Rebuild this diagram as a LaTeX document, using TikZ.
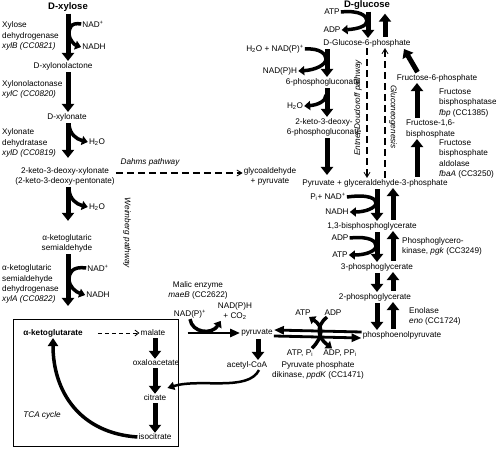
\documentclass[tikz,border=0pt]{standalone}
\usepackage{fontspec}
\setmainfont{Liberation Sans}
\usetikzlibrary{arrows.meta, positioning, calc}

\begin{document}
\begin{tikzpicture}[x=1pt, y=-1pt,
  every node/.style={font=\fontsize{8.2}{10.2}\selectfont, inner sep=1pt},
  title/.style={font=\fontsize{9.5}{11}\selectfont\bfseries},
  enz/.style={anchor=west, align=left},
  path label/.style={font=\fontsize{8.2}{10}\selectfont\itshape},
  rxn/.style={line width=5pt, shorten <=1pt, -{Triangle[width=12pt, length=8pt]}},
  cof/.style={line width=3.5pt, -{Triangle[width=9pt, length=6pt]}},
  ppdk arrow/.style={line width=2.8pt, -{Triangle[width=8pt, length=10pt]}},
  dashed route/.style={line width=1.8pt, dash pattern=on 7pt off 4pt,
    -{Straight Barb[line width=0.8pt, length=5pt, width=6pt]}},
  thin route/.style={line width=0.8pt, dash pattern=on 4pt off 3pt,
    -{Straight Barb[line width=0.8pt, length=4pt, width=6pt]}}]
  \useasboundingbox (0,0) rectangle (496,449);

  % arrow columns
  \coordinate (colL) at (68,0);
  \coordinate (colA) at (327,0);
  \coordinate (colE) at (367,0);
  \coordinate (colG) at (368,0);
  \coordinate (colN) at (385,0);
  \coordinate (colD) at (377,0);
  \coordinate (colU) at (393,0);
  \coordinate (colF) at (417,0);
  \coordinate (colK) at (258,0);
  \coordinate (colT) at (155,0);

  % Weimberg pathway (left)
  \node[title] (xyl) at (68,7) {D-xylose};
  \node (xylac) at (63,66) {D-xylonolactone};
  \node (xylon) at (67,117) {D-xylonate};
  \node[align=center] (kdx) at (65,176) {2-keto-3-deoxy-xylonate\\(2-keto-3-deoxy-pentonate)};
  \node[align=center] (ksa) at (67,243) {α-ketoglutaric\\semialdehyde};
  \coordinate (xAend) at (68,306);

  \node[enz] (xB) at (1,36) {Xylose\\dehydrogenase\\\textit{xylB (CC0821)}};
  \node[enz] (xC) at (1,89) {Xylonolactonase\\\textit{xylC (CC0820)}};
  \node[enz] (xD) at (1,143) {Xylonate\\dehydratase\\\textit{xylD (CC0819)}};
  \node[enz] (xA) at (1,284) {α-ketoglutaric\\semialdehyde\\dehydrogenase\\\textit{xylA (CC0822)}};

  \node (nad1) at (93,24) {NAD\textsuperscript{+}};
  \node (nadh1) at (94,47) {NADH};
  \node (h2o1) at (97,142) {H\textsubscript{2}O};
  \node (h2o2) at (97,207) {H\textsubscript{2}O};
  \node (nad2) at (98,268) {NAD\textsuperscript{+}};
  \node (nadh2) at (98,295) {NADH};
  \coordinate (d2) at (69,125);
  \coordinate (d3) at (69,190);

  \draw[rxn] (xyl.south -| colL) -- (xylac.north -| colL);
  \draw[rxn] (xylac.south -| colL) -- (xylon.north -| colL);
  \draw[rxn, shorten >=8pt] (xylon.south -| colL) -- (kdx.north -| colL);
  \draw[rxn, shorten >=12pt] (kdx.south -| colL) -- (ksa.north -| colL);
  \draw[rxn] (ksa.south -| colL) -- (xAend);

  \draw[cof] (nad1.west) .. controls (70,22) and (69,29) .. (69,34)
    .. controls (69,40) and (75,45) .. (nadh1.west);
  \draw[cof] (d2) .. controls (70,134) and (76,139) .. (h2o1.west);
  \draw[cof] (d3) .. controls (70,199) and (76,204) .. (h2o2.west);
  \draw[cof] (nad2.west) .. controls (72,266) and (69,273) .. (69,279)
    .. controls (69,287) and (76,292) .. (nadh2.west);

  \node[path label, rotate=-90] (weim) at (127,233) {Weimberg pathway};

  % Dahms pathway
  \node[path label] (dahms) at (150,162) {Dahms pathway};
  \node[align=center] (gly) at (270,176) {glycoaldehyde\\+ pyruvate};
  \draw[dashed route] (kdx.east |- 0,173) -- (gly.west |- 0,173);

  % TCA cycle
  \draw[line width=1pt] (13,320) rectangle (178,447);
  \node[font=\fontsize{8.2}{10}\selectfont\bfseries] (akg) at (53,333) {α-ketoglutarate};
  \node (mal) at (153,333) {malate};
  \node (oaa) at (156,363) {oxaloacetate};
  \node (cit) at (155,398) {citrate};
  \node (icit) at (155,437) {isocitrate};
  \node[path label] (tca) at (42,415) {TCA cycle};

  \draw[thin route, shorten <=14pt] (akg.east) -- (mal.west);
  \draw[rxn] (mal.south -| colT) -- (oaa.north -| colT);
  \draw[rxn] (oaa.south -| colT) -- (cit.north -| colT);
  \draw[rxn] (cit.south -| colT) -- (icit.north -| colT);
  \draw[line width=3.5pt, -{Triangle[width=10pt, length=8pt]}]
    (icit.west) .. controls (80,433) and (53,392) .. (akg.south);

  % malic enzyme
  \node[align=center] (malic) at (198,290) {Malic enzyme\\\textit{maeB} (CC2622)};
  \node (nadp) at (190,314) {NAD(P)\textsuperscript{+}};
  \node[align=center] (nadph) at (235,311) {NAD(P)H\\+ CO\textsubscript{2}};
  \node (pyr) at (257,333) {pyruvate};
  \node (accoa) at (247,365) {acetyl-CoA};

  \draw[ppdk arrow, shorten <=21pt] (mal.east) -- (pyr.west);
  \draw[cof] (nadp.south) .. controls (192,333) and (212,335) .. ([xshift=4pt]nadph.south west);
  \draw[rxn] (pyr.south -| colK) -- (accoa.north -| colK);
  \draw[line width=2.5pt, -{Triangle[width=8pt, length=7pt]}]
    ([xshift=12pt]accoa.south) .. controls (248,392) and (200,378) .. ([yshift=10pt]cit.east);

  % pyruvate phosphate dikinase
  \node (pep) at (402,335) {phosphoenolpyruvate};
  \node (atp2) at (303,313) {ATP};
  \node (adp2) at (333,313) {ADP};
  \node (atppi) at (300,353) {ATP, P\textsubscript{i}};
  \node (adppp) at (340,353) {ADP, PP\textsubscript{i}};
  \node[align=center] (ppdk) at (318,370) {Pyruvate phosphate\\dikinase, \textit{ppdK} (CC1471)};

  \draw[ppdk arrow] ([yshift=3pt]pep.west) -- ([yshift=3pt]pyr.east);
  \draw[ppdk arrow] ([yshift=-3pt]pyr.east) -- ([yshift=-3pt]pep.west);
  \draw[cof] ([xshift=12pt]atppi.north) .. controls (324,336) and (323,326) .. ([xshift=6pt]atp2.south);
  \draw[cof] ([xshift=-6pt]adp2.south) .. controls (316,326) and (317,337) .. ([xshift=-8pt]adppp.north);

  % glycolysis / Entner-Doudoroff (right)
  \node[title] (glc) at (367,5) {D-glucose};
  \node (g6p) at (367,43) {D-Glucose-6-phosphate};
  \node (p6g) at (323,82) {6-phosphogluconate};
  \node[align=center] (kdpg) at (324,127) {2-keto-3-deoxy-\\6-phosphogluconate};
  \node (gap) at (375,183) {Pyruvate + glyceraldehyde-3-phosphate};
  \node (bpg) at (372,226) {1,3-bisphosphoglycerate};
  \node (pg3) at (377,267) {3-phosphoglycerate};
  \node (pg2) at (375,297) {2-phosphoglycerate};

  \node (atp1) at (332,12) {ATP};
  \node (adp1) at (332,30) {ADP};
  \node (hn) at (275,49) {H\textsubscript{2}O + NAD(P)\textsuperscript{+}};
  \node (nadph1) at (280,71) {NAD(P)H};
  \node (h2o3) at (295,106) {H\textsubscript{2}O};
  \coordinate (d1) at (326,95);
  \node (pin) at (328,197) {P\textsubscript{i}+ NAD\textsuperscript{+}};
  \node (nadh3) at (337,212) {NADH};
  \node (adp3) at (340,238) {ADP};
  \node (atp3) at (340,255) {ATP};

  \draw[rxn] (glc.south -| colG) -- (g6p.north -| colG);
  \draw[rxn] (g6p.north -| colN) -- ([yshift=-3pt]glc.south -| colN);
  \draw[rxn] (g6p.south -| colA) -- (p6g.north -| colA);
  \draw[rxn] (p6g.south -| colA) -- (kdpg.north -| colA);
  \draw[rxn, shorten >=3pt] (kdpg.south -| colA) -- (gap.north -| colA);

  \draw[cof] (atp1.east) .. controls (360,10) and (367,16) .. (367,21)
    .. controls (367,26) and (358,29) .. (adp1.east);
  \draw[cof] (hn.east) .. controls (320,48) and (326,54) .. (326,59)
    .. controls (326,65) and (315,70) .. (nadph1.east);
  \draw[cof] (d1) .. controls (326,101) and (318,105) .. (h2o3.east);
  \draw[cof] (pin.east) .. controls (370,194) and (376,199) .. (376,203)
    .. controls (376,208) and (365,212) .. (nadh3.east);
  \draw[cof] (adp3.east) .. controls (370,236) and (376,241) .. (376,246)
    .. controls (376,251) and (366,255) .. (atp3.east);

  \draw[dashed route] (g6p.south -| colE) -- (gap.north -| colE);
  \draw[dashed route] (gap.north -| colN) -- (g6p.south -| colN);
  \node[path label, rotate=90] (ed) at (358,108) {Entner-Doudoroff pathway};
  \node[path label, rotate=-90] (gng) at (393,117) {Gluconeogenesis};

  \draw[rxn] (gap.south -| colD) -- (bpg.north -| colD);
  \draw[rxn] (bpg.north -| colU) -- (gap.south -| colU);
  \draw[rxn] (bpg.south -| colD) -- (pg3.north -| colD);
  \draw[rxn] (pg3.north -| colU) -- (bpg.south -| colU);
  \draw[rxn] (pg3.south -| colD) -- (pg2.north -| colD);
  \draw[rxn] (pg2.north -| colU) -- (pg3.south -| colU);
  \draw[rxn] (pg2.south -| colD) -- (pep.north -| colD);
  \draw[rxn] (pep.north -| colU) -- (pg2.south -| colU);

  % gluconeogenic branch
  \node (f6p) at (437,78) {Fructose-6-phosphate};
  \node[enz] (f16) at (405,129) {Fructose-1,6-\\bisphosphate};
  \node[enz] (fbp) at (438,103) {Fructose\\bisphosphatase\\\textit{fbp} (CC1385)};
  \node[enz] (fba) at (438,159) {Fructose\\bisphosphate\\aldolase\\\textit{fbaA} (CC3250)};
  \node[enz] (pgk) at (401,246) {Phosphoglycero-\\kinase, \textit{pgk} (CC3249)};
  \node[enz] (eno) at (408,316) {Enolase\\\textit{eno} (CC1724)};

  \draw[rxn] ([xshift=-19pt]f6p.north) -- ([xshift=37pt,yshift=-1pt]g6p.south);
  \draw[rxn] (f16.north -| colF) -- (f6p.south -| colF);
  \draw[rxn] (gap.north -| colF) -- (f16.south -| colF);
\end{tikzpicture}
\end{document}
